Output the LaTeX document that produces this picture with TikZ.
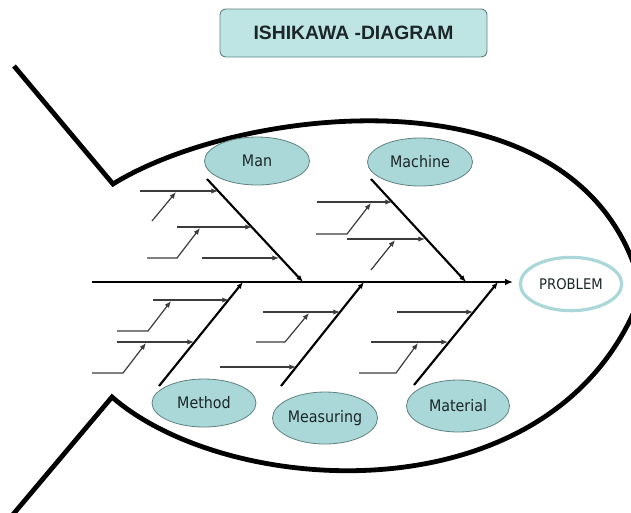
\documentclass[tikz,border=0pt]{standalone}
\usepackage{fontspec}
\usetikzlibrary{arrows.meta,shapes.geometric}
\newfontfamily\lblfont{DejaVu Sans Condensed}
\newfontfamily\ttlfont{Liberation Sans}
\definecolor{causefill}{RGB}{170,215,215}
\definecolor{causeedge}{RGB}{95,130,128}
\definecolor{titlefill}{RGB}{190,228,228}
\definecolor{probedge}{RGB}{170,216,216}
\definecolor{inktext}{RGB}{28,38,40}
\definecolor{twig}{RGB}{60,60,60}
\tikzset{
  outline/.style={line width=3.6pt, line join=miter},
  spine/.style={line width=1.9pt, -{Latex[length=6pt,width=5pt]}},
  bone/.style={line width=1.6pt, -{Latex[length=5pt,width=4pt]}},
  twigline/.style={line width=0.9pt, draw=twig, -{Latex[length=5pt,width=4pt]}},
  cause/.style={ellipse, draw=causeedge, line width=0.6pt, fill=causefill,
    inner sep=0pt, text=inktext, font=\lblfont\fontsize{11.9}{13}\selectfont},
  problem/.style={ellipse, draw=probedge, line width=2.4pt, fill=white,
    inner sep=0pt, text=inktext, font=\lblfont\fontsize{11}{13}\selectfont},
  titlebox/.style={draw=causeedge, line width=0.7pt, fill=titlefill, rounded corners=4.5pt,
    inner sep=0pt, text=inktext, font=\ttlfont\bfseries\fontsize{14.5}{16}\selectfont}
}
\begin{document}
\begin{tikzpicture}[x=0.75pt, y=-0.75pt]
\useasboundingbox (0,0) rectangle (631,512);

% fish outline (head tip runs past the right edge)
\begin{scope}
  \clip (0,0) rectangle (631,512);
  \coordinate (tailtop) at (14,66);
  \coordinate (gilltop) at (113,184);
  \coordinate (nose) at (642,292);
  \coordinate (gillbot) at (112,397);
  \coordinate (tailbot) at (10,518);
  \draw[outline] (tailtop) -- (gilltop) .. controls (240,105) and (590,62) .. (nose);
  \draw[outline] (tailbot) -- (gillbot) .. controls (230,500) and (560,520) .. (nose);
\end{scope}

% title
\node[titlebox, minimum width=200.25pt, minimum height=36pt] (title) at (353.5,33) {ISHIKAWA -DIAGRAM};

% spine and head
\node[problem, minimum width=76pt, minimum height=40pt] (prob) at (571,284) {PROBLEM};
\coordinate (tail) at (92,282);
\coordinate (head) at (513,282);
\draw[spine] (tail) -- (head);

% main bones
\coordinate (manA) at (207,179);  \coordinate (manB) at (303,282);
\coordinate (macA) at (371,179);  \coordinate (macB) at (466,282);
\coordinate (metA) at (159,386);  \coordinate (metB) at (243,282);
\coordinate (meaA) at (281,386);  \coordinate (meaB) at (364,282);
\coordinate (matA) at (414,385);  \coordinate (matB) at (498,282);
\draw[bone] (manA) -- (manB);
\draw[bone] (macA) -- (macB);
\draw[bone] (metA) -- (metB);
\draw[bone] (meaA) -- (meaB);
\draw[bone] (matA) -- (matB);

% cause categories
\node[cause, minimum width=78.75pt, minimum height=36pt] (man) at (257,161) {Man};
\node[cause, minimum width=78.75pt, minimum height=36pt] (machine) at (420,162) {Machine};
\node[cause, minimum width=78pt, minimum height=36pt] (method) at (204,403) {Method};
\node[cause, minimum width=78pt, minimum height=39pt] (measuring) at (325,418) {Measuring};
\node[cause, minimum width=77.25pt, minimum height=39pt] (material) at (458,406) {Material};

% Man twigs
\coordinate (m1a) at (140,191); \coordinate (m1b) at (218,191);
\coordinate (m2a) at (152,221); \coordinate (m2b) at (176,192);
\coordinate (m3a) at (177,227); \coordinate (m3b) at (252,227);
\coordinate (m4a) at (147,258); \coordinate (m4k) at (177,258); \coordinate (m4b) at (200,228);
\coordinate (m5a) at (202,258); \coordinate (m5b) at (279,258);
\draw[twigline] (m1a) -- (m1b);
\draw[twigline] (m2a) -- (m2b);
\draw[twigline] (m3a) -- (m3b);
\draw[twigline] (m4a) -- (m4k) -- (m4b);
\draw[twigline] (m5a) -- (m5b);

% Machine twigs
\coordinate (c1a) at (317,202); \coordinate (c1b) at (392,202);
\coordinate (c2a) at (316,234); \coordinate (c2k) at (347,234); \coordinate (c2b) at (371,203);
\coordinate (c3a) at (347,239); \coordinate (c3b) at (425,239);
\coordinate (c4a) at (371,270); \coordinate (c4b) at (395,240);
\draw[twigline] (c1a) -- (c1b);
\draw[twigline] (c2a) -- (c2k) -- (c2b);
\draw[twigline] (c3a) -- (c3b);
\draw[twigline] (c4a) -- (c4b);

% Method twigs
\coordinate (d1a) at (153,300); \coordinate (d1b) at (229,300);
\coordinate (d2a) at (117,331); \coordinate (d2k) at (148,331); \coordinate (d2b) at (171,301);
\coordinate (d3a) at (117,342); \coordinate (d3b) at (194,342);
\coordinate (d4a) at (92,373);  \coordinate (d4k) at (123,373); \coordinate (d4b) at (146,343);
\draw[twigline] (d1a) -- (d1b);
\draw[twigline] (d2a) -- (d2k) -- (d2b);
\draw[twigline] (d3a) -- (d3b);
\draw[twigline] (d4a) -- (d4k) -- (d4b);

% Measuring twigs
\coordinate (s1a) at (263,312); \coordinate (s1b) at (340,312);
\coordinate (s2a) at (256,342); \coordinate (s2k) at (285,342); \coordinate (s2b) at (309,313);
\coordinate (s3a) at (220,367); \coordinate (s3b) at (296,367);
\draw[twigline] (s1a) -- (s1b);
\draw[twigline] (s2a) -- (s2k) -- (s2b);
\draw[twigline] (s3a) -- (s3b);

% Material twigs
\coordinate (t1a) at (397,312); \coordinate (t1b) at (473,312);
\coordinate (t2a) at (371,342); \coordinate (t2b) at (448,342);
\coordinate (t3a) at (359,373); \coordinate (t3k) at (396,373); \coordinate (t3b) at (418,343);
\draw[twigline] (t1a) -- (t1b);
\draw[twigline] (t2a) -- (t2b);
\draw[twigline] (t3a) -- (t3k) -- (t3b);
\end{tikzpicture}
\end{document}
